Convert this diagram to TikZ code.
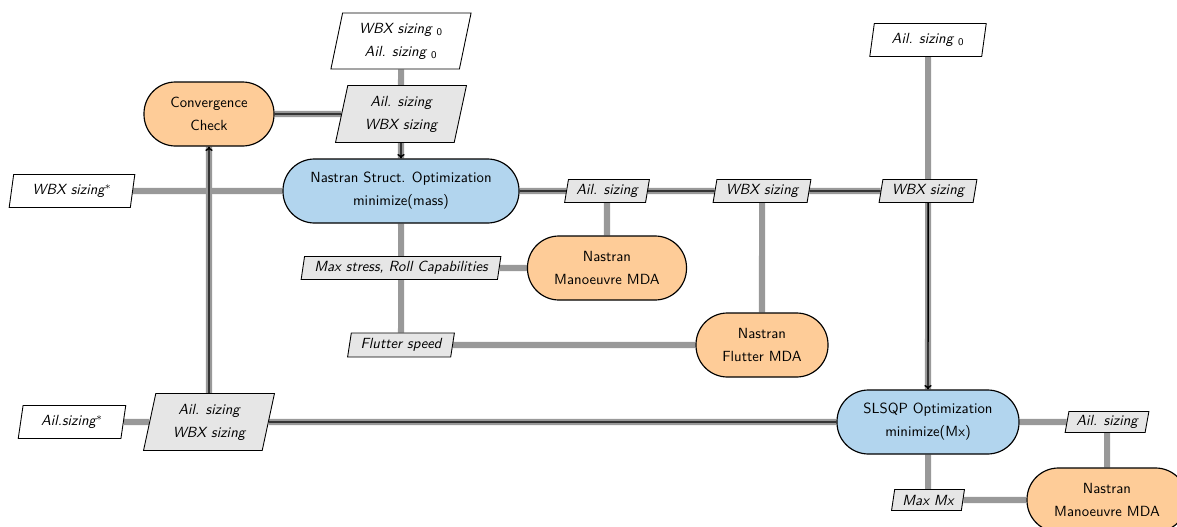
\documentclass[tikz,border=0pt]{standalone}
\usetikzlibrary{shapes.geometric,arrows.meta,backgrounds}
\definecolor{fnorange}{RGB}{254,204,152}
\definecolor{optblue}{RGB}{178,213,238}
\definecolor{datagray}{RGB}{230,230,230}
\definecolor{linegray}{RGB}{153,153,153}
\def\px{0.68pt}
\tikzset{
 stad/.style={rectangle, rounded corners=31.5*\px, draw=black, line width=0.8pt, align=center,
   font=\sffamily\fontsize{10}{15.6}\selectfont, minimum height=64*\px, inner sep=0pt},
 fn/.style={stad, fill=fnorange},
 opt/.style={stad, fill=optblue},
 dat/.style={trapezium, trapezium left angle=77, trapezium right angle=103, trapezium stretches=true,
   draw=black, line width=0.6pt, fill=datagray, align=center,
   font=\sffamily\itshape\fontsize{10}{15.6}\selectfont, inner sep=0pt},
 inp/.style={dat, fill=white},
 dline/.style={draw=linegray, line width=4.1pt},
 pline/.style={draw=black, line width=1pt},
 parrow/.style={pline, -{To[length=3pt,width=5pt]}},
}
\begin{document}
\begin{tikzpicture}[x=0.68pt, y=-0.68pt]
\useasboundingbox (0,0) rectangle (1177,526);
% nodes
\node[inp, minimum width=141*\px, minimum height=56*\px] (wbx0) at (401,41) {WBX sizing\ $_\mathsf{0}$\\Ail. sizing\ $_\mathsf{0}$};
\node[dat, minimum width=131*\px, minimum height=57*\px] (ailwbxA) at (401,114) {Ail. sizing\\WBX sizing};
\node[fn, minimum width=130*\px] (conv) at (209,114) {Convergence\\Check};
\node[opt, minimum width=236*\px] (struct) at (401,191) {Nastran Struct. Optimization\\minimize(mass)};
\node[inp, minimum width=126*\px, minimum height=33*\px] (wbxstar) at (72,191) {WBX sizing$^*$};
\node[dat, minimum width=85*\px, minimum height=23*\px] (ailA) at (607,191) {Ail. sizing};
\node[dat, minimum width=98*\px, minimum height=23*\px] (wbxA) at (762,191) {WBX sizing};
\node[dat, minimum width=98*\px, minimum height=23*\px] (wbxB) at (928,191) {WBX sizing};
\node[inp, minimum width=117*\px, minimum height=33*\px] (ail0) at (928,40) {Ail. sizing\ $_\mathsf{0}$};
\node[fn, minimum width=159*\px] (manA) at (607,268) {Nastran\\Manoeuvre MDA};
\node[dat, minimum width=200*\px, minimum height=23*\px] (maxstress) at (401,268) {Max stress, Roll Capabilities};
\node[dat, minimum width=107*\px, minimum height=24*\px] (fspeed) at (401,345) {Flutter speed};
\node[fn, minimum width=132*\px] (flutter) at (762,345) {Nastran\\Flutter MDA};
\node[opt, minimum width=182*\px] (slsqp) at (928,422) {SLSQP Optimization\\minimize(Mx)};
\node[dat, minimum width=84*\px, minimum height=21*\px] (ailB) at (1107,422) {Ail. sizing};
\node[fn, minimum width=160*\px] (manB) at (1107,500) {Nastran\\Manoeuvre MDA};
\node[dat, minimum width=73*\px, minimum height=21*\px] (maxmx) at (928,500) {Max Mx};
\node[inp, minimum width=108*\px, minimum height=33*\px] (ailstar) at (72,422) {Ail.sizing$^*$};
\node[dat, minimum width=131*\px, minimum height=57*\px] (ailwbxB) at (209,422) {Ail. sizing\\WBX sizing};
% connectors
\begin{scope}[on background layer]
 \draw[dline] (wbx0) -- (ailwbxA);
 \draw[dline] (conv) -- (ailwbxA);
 \draw[dline] (ailwbxA) -- (struct);
 \draw[dline] (wbxstar) -- (struct);
 \draw[dline] (struct) -- (ailA);
 \draw[dline] (ailA) -- (wbxA);
 \draw[dline] (wbxA) -- (wbxB);
 \draw[dline] (ail0) -- (wbxB);
 \draw[dline] (wbxB) -- (slsqp);
 \draw[dline] (ailA) -- (manA);
 \draw[dline] (wbxA) -- (flutter);
 \draw[dline] (struct) -- (maxstress);
 \draw[dline] (maxstress) -- (fspeed);
 \draw[dline] (maxstress) -- (manA);
 \draw[dline] (fspeed) -- (flutter);
 \draw[dline] (ailstar) -- (ailwbxB);
 \draw[dline] (ailwbxB) -- (slsqp);
 \draw[dline] (ailwbxB) -- (conv);
 \draw[dline] (slsqp) -- (ailB);
 \draw[dline] (ailB) -- (manB);
 \draw[dline] (slsqp) -- (maxmx);
 \draw[dline] (maxmx) -- (manB);
 \draw[pline] (conv) -- (ailwbxA);
 \draw[parrow] (ailwbxA) -- (struct);
 \draw[pline] (struct) -- (ailA);
 \draw[pline] (ailA) -- (wbxA);
 \draw[pline] (wbxA) -- (wbxB);
 \draw[parrow] (wbxB) -- (slsqp);
 \draw[pline] (ailwbxB) -- (slsqp);
 \draw[parrow] (ailwbxB) -- (conv);
\end{scope}
\end{tikzpicture}
\end{document}
